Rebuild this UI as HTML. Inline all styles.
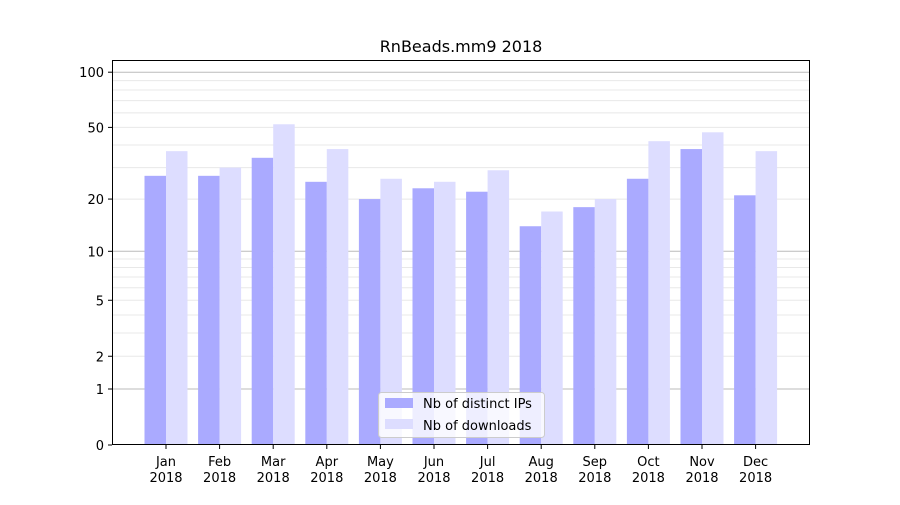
<!DOCTYPE html>
<html><head><meta charset="utf-8"><style>
body{margin:0;background:#fff;font-family:"Liberation Sans","DejaVu Sans",sans-serif}
</style></head><body>
<svg width="900" height="500" xmlns="http://www.w3.org/2000/svg" font-family="DejaVu Sans, Liberation Sans, sans-serif">
<rect width="900" height="500" fill="#fff"/>
<text x="461" y="52" text-anchor="middle" font-size="16">RnBeads.mm9 2018</text>
<g id="grid"></g>
<g id="bars"></g>
<g id="axes"></g>
<rect x="112.5" y="60.5" width="697" height="384" fill="none" stroke="#000"/>
<g>
<rect x="378.5" y="392.5" width="166" height="45" rx="3" fill="#fff" fill-opacity="0.8" stroke="#ccc"/>
<rect x="385" y="398" width="28" height="10" fill="#aaaaff"/>
<text x="423" y="408" font-size="13">Nb of distinct IPs</text>
<rect x="385" y="419" width="28" height="10" fill="#ddddff"/>
<text x="423" y="430" font-size="13">Nb of downloads</text>
</g>
</svg>
<script>
const months=["Jan","Feb","Mar","Apr","May","Jun","Jul","Aug","Sep","Oct","Nov","Dec"];
const ips=[27,27,34,25,20,23,22,14,18,26,38,21];
const downloads=[37,30,52,38,26,25,29,17,20,42,47,37];
const yTicks=[0,1,2,5,10,20,50,100];
const NS="http://www.w3.org/2000/svg";
function y(v){return 445-186*Math.log10(v+1);}
function xc(i){return 166+i*53.6;}
function mk(t,a,p){const e=document.createElementNS(NS,t);for(const k in a)e.setAttribute(k,a[k]);p.appendChild(e);return e;}
const grid=document.getElementById('grid'),bars=document.getElementById('bars'),axes=document.getElementById('axes');
const minor=[2,3,4,5,6,7,8,9,20,30,40,50,60,70,80,90];
minor.forEach(v=>{const l=mk('line',{x1:112,x2:810,y1:y(v),y2:y(v),stroke:'#e8e8e8','stroke-width':1},grid);

});
[1,10,100].forEach(v=>{const l=mk('line',{x1:112,x2:810,y1:y(v),y2:y(v),stroke:'#bbb','stroke-width':1},grid);

});
months.forEach((m,i)=>{
const a=mk('rect',{x:xc(i)-21.5,y:y(ips[i]),width:21.5,height:445-y(ips[i]),fill:'#aaaaff'},bars);


const b=mk('rect',{x:xc(i),y:y(downloads[i]),width:21.5,height:445-y(downloads[i]),fill:'#ddddff'},bars);


mk('line',{x1:xc(i),x2:xc(i),y1:445,y2:449,stroke:'#000'},axes);
const t=mk('text',{x:xc(i),y:466,'text-anchor':'middle','font-size':13},axes);
t.textContent=m;


const t2=mk('text',{x:xc(i),y:482,'text-anchor':'middle','font-size':13},axes);
t2.textContent='2018';


});
yTicks.forEach(v=>{
mk('line',{x1:108,x2:112,y1:y(v),y2:y(v),stroke:'#000'},axes);
const t=mk('text',{x:104,y:y(v)+5,'text-anchor':'end','font-size':13},axes);
t.textContent=v;


});
</script>
</body></html>
